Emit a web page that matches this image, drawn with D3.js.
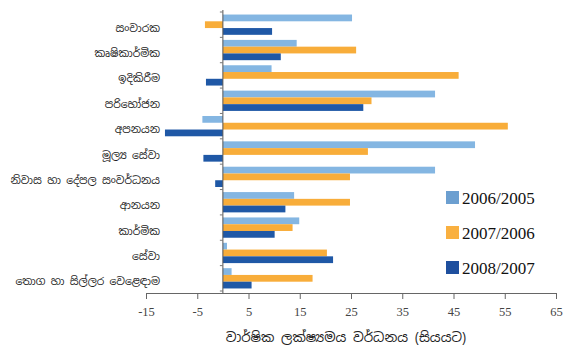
<!DOCTYPE html>
<html>
<head>
<meta charset="utf-8">
<script src="https://cdn.jsdelivr.net/npm/d3@7"></script>
<style>
  html, body { margin: 0; padding: 0; background: #fff; }
  svg { display: block; }
</style>
</head>
<body>
<svg id="chart" width="563" height="360"></svg>
<script>
// Sectors (top to bottom)
const categories = [
  "සංචාරක",
  "කෘෂිකාර්මික",
  "ඉදිකිරීම",
  "පරිභෝජන",
  "අපනයන",
  "මූල්‍ය සේවා",
  "නිවාස හා දේපල සංවර්ධනය",
  "ආනයන",
  "කාර්මික",
  "සේවා",
  "තොග හා සිල්ලර වෙළෙඳාම"
];

const seriesNames = ["2006/2005", "2007/2006", "2008/2007"];

// Year-on-year growth, per cent
const growth2006 = [25.2, 14.4, 9.5, 41.4, -4.0, 49.2, 41.4, 13.9, 14.9, 0.8, 1.7];
const growth2007 = [-3.5, 26.0, 46.0, 29.0, 55.6, 28.3, 24.8, 24.8, 13.6, 20.3, 17.5];
const growth2008 = [9.6, 11.3, -3.3, 27.4, -11.3, -3.8, -1.5, 12.2, 10.1, 21.5, 5.6];

const xTicks = [-15, -5, 5, 15, 25, 35, 45, 55, 65];
const axisTitle = "වාර්ෂික ලක්ෂ්‍යමය වර්ධනය (සියයට)";

const colors = ["#84b6e2", "#f8ad3a", "#1f58a6"];
const legendColors = ["#6c9fd0", "#f9b040", "#1e4f9e"];

const svg = d3.select("#chart");

const x = d3.scaleLinear().domain([-15, 65]).range([146, 556]);
const y = d3.scaleBand().domain(categories).range([12, 291])
  .paddingInner(0.2).paddingOuter(0.1);
const ySub = d3.scaleBand().domain(seriesNames).range([0, y.bandwidth()]);

const seriesData = [growth2006, growth2007, growth2008];

// Bars
seriesData.forEach((vals, si) => {
  svg.append("g").selectAll("rect")
    .data(vals.map((v, i) => ({ cat: categories[i], v })))
    .join("rect")
    .attr("x", d => x(Math.min(0, d.v)))
    .attr("width", d => Math.abs(x(d.v) - x(0)))
    .attr("y", d => y(d.cat) + ySub(seriesNames[si]))
    .attr("height", ySub.bandwidth())
    .attr("fill", colors[si]);
});

// Vertical zero axis with small marks at group boundaries
const yAxisG = svg.append("g");
yAxisG.append("line")
  .attr("x1", x(0)).attr("x2", x(0))
  .attr("y1", 10).attr("y2", 293)
  .attr("stroke", "#555").attr("stroke-width", 1);
yAxisG.selectAll("line.mark")
  .data(d3.range(categories.length + 1))
  .join("line").attr("class", "mark")
  .attr("x1", x(0) - 3).attr("x2", x(0))
  .attr("y1", i => 12 + i * (279 / categories.length))
  .attr("y2", i => 12 + i * (279 / categories.length))
  .attr("stroke", "#777");

// Bottom axis
const xAxis = d3.axisBottom(x).tickValues(xTicks).tickSize(6).tickSizeOuter(6)
  .tickFormat(d => String(d));
const xg = svg.append("g").attr("transform", "translate(0,293)").call(xAxis);
xg.select(".domain").attr("stroke", "#666");
xg.selectAll(".tick line").attr("stroke", "#666");
xg.selectAll(".tick text")
  .attr("dy", "1.1em")
  .attr("font-family", "Liberation Serif, serif")
  .attr("font-size", 12.5)
  .attr("fill", "#444");

// Category labels
svg.append("g").selectAll("text")
  .data(categories)
  .join("text")
  .attr("x", 160)
  .attr("y", d => y(d) + y.bandwidth() / 2 + 3)
  .attr("text-anchor", "end")
  .attr("dominant-baseline", "central")
  .attr("font-family", "Noto Sans Sinhala, Noto Sans, sans-serif")
  .attr("font-size", 10.7)
  .attr("fill", "#222")
  .text(d => d);

// Axis title
svg.append("text")
  .attr("x", 346).attr("y", 337)
  .attr("text-anchor", "middle")
  .attr("dominant-baseline", "central")
  .attr("font-family", "Noto Sans Sinhala, Noto Sans, sans-serif")
  .attr("font-size", 13.3)
  .attr("fill", "#222")
  .text(axisTitle);

// Legend
const legend = svg.append("g");
seriesNames.forEach((name, i) => {
  const ly = 197 + i * 35;
  legend.append("rect")
    .attr("x", 446).attr("y", ly - 6)
    .attr("width", 13).attr("height", 13)
    .attr("fill", legendColors[i]);
  legend.append("text")
    .attr("x", 462).attr("y", ly + 1)
    .attr("dominant-baseline", "central")
    .attr("font-family", "Liberation Serif, serif")
    .attr("font-size", 17)
    .attr("fill", "#111")
    .text(name);
});
</script>
</body>
</html>
